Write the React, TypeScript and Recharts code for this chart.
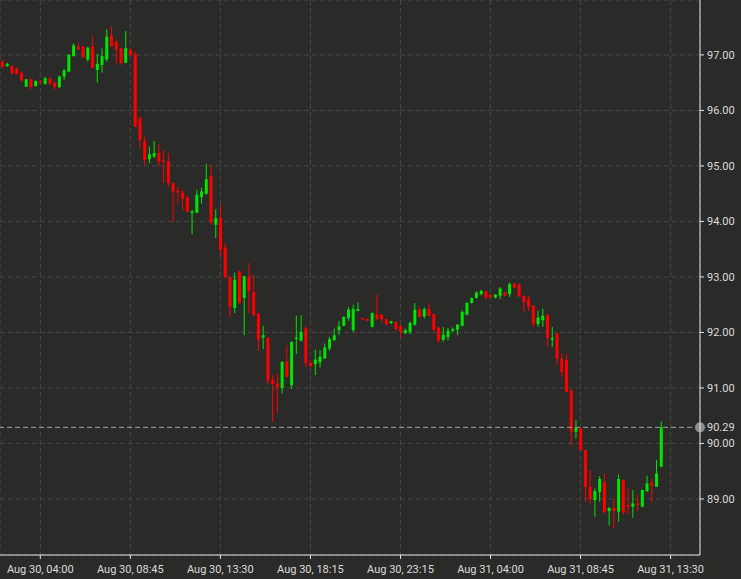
import {
  ComposedChart,
  Bar,
  XAxis,
  YAxis,
  CartesianGrid,
  ReferenceLine,
} from "recharts";

// 15-minute candles, Aug 30 02:00 onwards
const opens = [
  96.88, 96.80, 96.80, 96.75, 96.68, 96.43, 96.56, 96.44, 96.53, 96.48,
  96.57, 96.50, 96.42, 96.61, 96.70, 96.98, 97.15, 97.15, 96.92, 97.15,
  96.73, 96.82, 96.92, 97.35, 97.24, 97.12, 96.86, 97.09, 97.01, 95.86,
  95.44, 95.12, 95.17, 95.23, 95.11, 95.08, 94.69, 94.55, 94.52, 94.43,
  94.15, 94.16, 94.44, 94.50, 94.82, 93.94, 94.06, 93.53, 93.00, 92.44,
  93.10, 92.62, 93.00, 92.73, 92.34, 91.91, 91.90, 91.14, 91.08, 91.00,
  91.47, 91.05, 91.88, 91.85, 92.07, 91.45, 91.43, 91.46, 91.53, 91.71,
  91.86, 92.04, 92.12, 92.26, 92.04, 92.39, 92.26, 92.24, 92.10, 92.33,
  92.32, 92.24, 92.17, 92.19, 92.12, 91.99, 92.01, 92.14, 92.41, 92.29,
  92.42, 92.33, 92.09, 91.87, 91.92, 92.03, 92.05, 92.12, 92.32, 92.53,
  92.62, 92.69, 92.74, 92.68, 92.63, 92.66, 92.72, 92.69, 92.88, 92.86,
  92.66, 92.60, 92.48, 92.15, 92.22, 92.32, 91.88, 91.98, 91.53, 91.50,
  90.96, 90.21, 90.27, 89.88, 89.22, 88.98, 89.13, 89.30, 88.78, 88.84,
  88.77, 89.34, 88.89, 88.86, 88.92, 88.86, 89.14, 89.29, 89.22, 89.58,
];
const highs = [
  96.91, 96.86, 96.82, 96.77, 96.70, 96.57, 96.58, 96.54, 96.54, 96.60,
  96.60, 96.52, 96.63, 96.75, 97.02, 97.21, 97.22, 97.16, 97.15, 97.33,
  97.02, 97.12, 97.46, 97.52, 97.26, 97.14, 97.43, 97.13, 97.06, 95.88,
  95.53, 95.35, 95.45, 95.40, 95.29, 95.23, 94.70, 94.63, 94.57, 94.46,
  94.21, 94.57, 94.61, 95.04, 95.02, 94.22, 94.30, 93.61, 93.01, 93.08,
  93.11, 93.02, 93.25, 93.04, 92.35, 92.12, 91.91, 91.23, 91.27, 91.48,
  91.77, 91.84, 92.30, 92.31, 92.10, 91.50, 91.69, 91.68, 91.80, 91.92,
  92.07, 92.21, 92.29, 92.46, 92.50, 92.54, 92.27, 92.25, 92.36, 92.68,
  92.33, 92.25, 92.21, 92.20, 92.13, 92.07, 92.20, 92.53, 92.45, 92.45,
  92.53, 92.34, 92.10, 92.10, 92.08, 92.09, 92.15, 92.40, 92.55, 92.63,
  92.74, 92.77, 92.75, 92.69, 92.69, 92.82, 92.73, 92.90, 92.89, 92.89,
  92.67, 92.66, 92.49, 92.39, 92.43, 92.33, 92.10, 91.99, 91.62, 91.62,
  90.97, 90.42, 90.28, 89.89, 89.52, 89.19, 89.41, 89.46, 88.85, 89.01,
  89.44, 89.35, 89.19, 89.16, 89.08, 89.17, 89.42, 89.37, 89.70, 90.40,
];
const lows = [
  96.76, 96.78, 96.64, 96.64, 96.52, 96.42, 96.38, 96.43, 96.49, 96.46,
  96.46, 96.37, 96.40, 96.55, 96.69, 96.97, 97.09, 96.94, 96.88, 96.76,
  96.50, 96.68, 96.88, 97.15, 96.85, 96.82, 96.85, 96.98, 95.70, 95.32,
  95.02, 95.05, 95.14, 94.99, 94.69, 94.63, 93.99, 94.33, 94.19, 94.17,
  93.77, 94.15, 94.32, 94.48, 93.94, 93.70, 93.37, 92.98, 92.28, 92.35,
  92.52, 91.95, 92.35, 92.30, 91.67, 91.70, 91.06, 90.39, 90.54, 90.90,
  91.19, 90.98, 91.61, 91.84, 91.38, 91.37, 91.23, 91.37, 91.52, 91.67,
  91.85, 91.95, 92.11, 92.21, 92.01, 92.38, 92.23, 92.21, 92.09, 92.23,
  92.18, 92.12, 92.15, 92.04, 91.90, 91.97, 91.97, 92.12, 92.27, 92.25,
  92.29, 92.02, 91.82, 91.83, 91.86, 92.00, 91.95, 92.11, 92.31, 92.52,
  92.61, 92.67, 92.60, 92.62, 92.61, 92.60, 92.65, 92.64, 92.80, 92.64,
  92.37, 92.39, 92.10, 92.10, 92.10, 91.74, 91.74, 91.41, 91.20, 90.92,
  89.97, 90.09, 89.87, 88.95, 88.92, 88.68, 88.95, 88.75, 88.52, 88.47,
  88.59, 88.72, 88.72, 88.66, 88.78, 88.85, 89.13, 88.95, 89.22, 89.58,
];
const closes = [
  96.79, 96.84, 96.67, 96.66, 96.54, 96.56, 96.42, 96.53, 96.50, 96.58,
  96.48, 96.42, 96.61, 96.72, 97.00, 97.17, 97.10, 96.96, 97.13, 96.77,
  96.84, 96.98, 97.33, 97.16, 97.10, 96.85, 97.12, 97.00, 95.71, 95.47,
  95.11, 95.21, 95.23, 95.08, 95.08, 94.69, 94.54, 94.53, 94.41, 94.18,
  94.18, 94.48, 94.54, 94.76, 93.98, 94.06, 93.49, 93.00, 92.46, 92.95,
  92.53, 93.01, 92.75, 92.31, 91.87, 91.95, 91.13, 91.07, 91.01, 91.47,
  91.20, 91.83, 91.91, 92.01, 91.45, 91.39, 91.51, 91.56, 91.73, 91.88,
  91.95, 92.11, 92.28, 92.41, 92.42, 92.42, 92.24, 92.22, 92.35, 92.24,
  92.24, 92.15, 92.20, 92.06, 92.01, 92.04, 92.17, 92.41, 92.28, 92.42,
  92.30, 92.05, 91.85, 91.96, 92.03, 92.06, 92.14, 92.37, 92.53, 92.62,
  92.72, 92.75, 92.63, 92.63, 92.68, 92.79, 92.66, 92.87, 92.81, 92.65,
  92.55, 92.46, 92.15, 92.27, 92.30, 91.90, 91.90, 91.53, 91.29, 90.93,
  90.21, 90.28, 89.88, 89.22, 89.00, 89.14, 89.36, 88.76, 88.84, 88.78,
  89.36, 88.76, 88.86, 88.92, 88.90, 89.16, 89.28, 89.24, 89.46, 90.29,
];

// candle index of each time label (candle 0 = Aug 30, 02:00)
const timeTicks = [8, 27, 46, 65, 84, 103, 122, 141];
const timeLabels = [
  "Aug 30, 04:00",
  "Aug 30, 08:45",
  "Aug 30, 13:30",
  "Aug 30, 18:15",
  "Aug 30, 23:15",
  "Aug 31, 04:00",
  "Aug 31, 08:45",
  "Aug 31, 13:30",
];
const priceTicks = [89, 90, 91, 92, 93, 94, 95, 96, 97];
const lastPrice = 90.29;

const UP = "#00e600";
const DOWN = "#ff0000";
const TEXT = "#dcdcdc";
const FONT = "Roboto, sans-serif";

const data = opens.map((open, i) => ({
  t: i,
  open,
  high: highs[i],
  low: lows[i],
  close: closes[i],
}));

const Candle = (props: any) => {
  const { x, y, width, height, payload } = props;
  if (!payload) return null;
  const { open, close, high, low } = payload;
  const top = Math.min(y, y + height);
  const span = Math.abs(height);
  const ratio = high > low ? span / (high - low) : 0;
  const yOf = (v: number) => top + (high - v) * ratio;
  const cx = x + width / 2;
  const color = close >= open ? UP : DOWN;
  const bodyTop = yOf(Math.max(open, close));
  const bodyH = Math.max(1.5, yOf(Math.min(open, close)) - bodyTop);
  return (
    <g>
      <line x1={cx} x2={cx} y1={top} y2={top + span} stroke={color} strokeWidth={1} />
      <rect x={cx - 1.5} y={bodyTop} width={3} height={bodyH} fill={color} />
    </g>
  );
};

const PriceTag = (props: any) => {
  const { viewBox } = props;
  if (!viewBox) return null;
  const x = viewBox.x + viewBox.width;
  const y = viewBox.y;
  return (
    <g>
      <circle cx={x} cy={y} r={5} fill="#8c8c8c" />
      <text x={x + 7} y={y} dy="0.355em" fill={TEXT} fontSize={11} fontFamily={FONT}>
        {lastPrice.toFixed(2)}
      </text>
    </g>
  );
};

export default function App() {
  return (
    <div
      style={{
        position: "fixed",
        left: 0,
        top: 0,
        width: 741,
        height: 579,
        background: "#2a2a28",
      }}
    >
      <ComposedChart
        width={741}
        height={579}
        data={data}
        margin={{ top: 0, right: 0, bottom: 0, left: 0 }}
      >
        <CartesianGrid stroke="#474745" strokeDasharray="5 3" />
        <XAxis
          type="number"
          dataKey="t"
          domain={[-0.5, 147.2]}
          allowDataOverflow
          ticks={timeTicks}
          interval={0}
          tickFormatter={(v: number) => timeLabels[timeTicks.indexOf(v)]}
          stroke="#e6e6e6"
          tickSize={4}
          tickMargin={6}
          height={24}
          tick={{ fill: TEXT, fontSize: 11, fontFamily: FONT }}
        />
        <YAxis
          orientation="right"
          domain={[87.99, 97.99]}
          allowDataOverflow
          ticks={priceTicks}
          interval={0}
          tickFormatter={(v: number) => v.toFixed(2)}
          stroke="#e6e6e6"
          tickSize={4}
          tickMargin={3}
          width={41}
          tick={{ fill: TEXT, fontSize: 11, fontFamily: FONT, textAnchor: "start" }}
        />
        <Bar
          dataKey={(d: any) => [d.low, d.high]}
          barSize={3}
          shape={<Candle />}
          isAnimationActive={false}
        />
        <ReferenceLine
          y={lastPrice}
          stroke="#a0a0a0"
          strokeDasharray="5 3"
          label={<PriceTag />}
        />
      </ComposedChart>
    </div>
  );
}
